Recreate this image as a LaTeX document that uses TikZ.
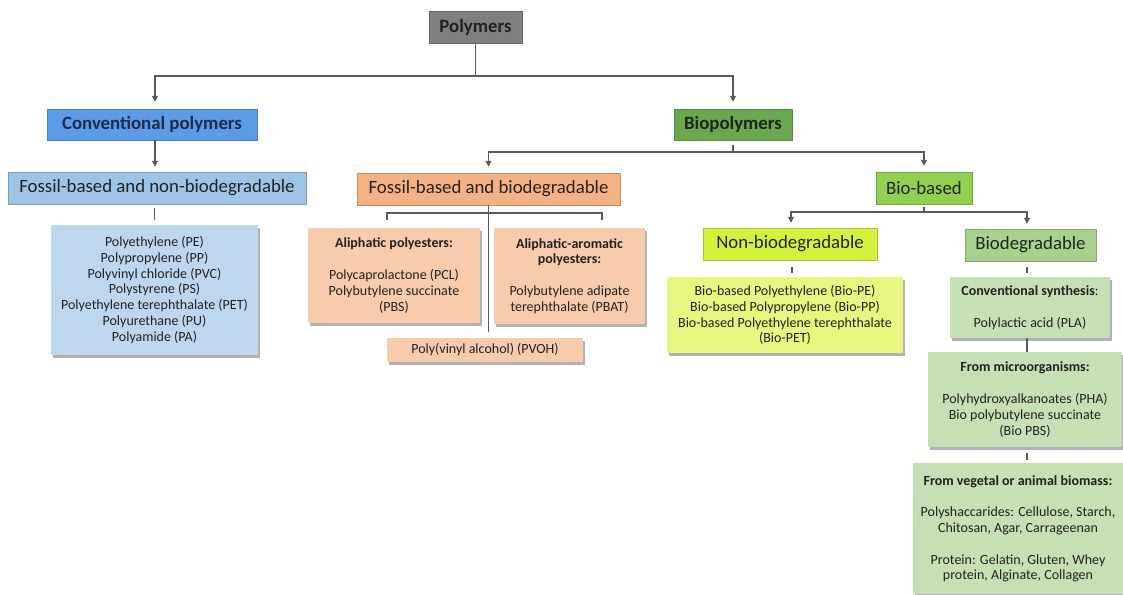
\documentclass[tikz,border=0pt]{standalone}
\usepackage{fontspec}
\setmainfont{Carlito}
\usetikzlibrary{arrows.meta,shadows,calc}
\definecolor{txt}{HTML}{222222}
\definecolor{navy}{HTML}{1C2B4A}
\definecolor{cgray}{HTML}{7F7F7F}
\definecolor{cconv}{HTML}{5C9CE6}
\definecolor{cfnb}{HTML}{9DC3E6}
\definecolor{cblue}{HTML}{BDD7EE}
\definecolor{cbio}{HTML}{6AA84F}
\definecolor{cfb}{HTML}{F4B183}
\definecolor{corange}{HTML}{F8CBAD}
\definecolor{cbb}{HTML}{92D050}
\definecolor{cnon}{HTML}{D4F23C}
\definecolor{cyel}{HTML}{E8F57E}
\definecolor{cbiod}{HTML}{A9D18E}
\definecolor{cgreen}{HTML}{C5E0B4}
\definecolor{cline}{HTML}{5A5A5A}
\begin{document}
\begin{tikzpicture}[x=1pt,y=-1pt,
  boxbase/.style={fill=#1, draw=#1!80!black, line width=0.5pt, inner sep=0pt, align=center, text=txt},
  hdr/.style={boxbase=#1, font=\fontsize{18.8}{22}\selectfont\bfseries},
  subhdr/.style={boxbase=#1, font=\fontsize{18.8}{22}\selectfont},
  lstbox/.style={fill=#1, draw=none, inner sep=0pt, align=center, text=txt,
    font=\fontsize{14}{15.8}\selectfont,
    drop shadow={shadow xshift=2pt, shadow yshift=-3pt, fill=black, opacity=0.3}},
  conn/.style={draw=cline, line width=1.1pt},
  arr/.style={conn, -{Triangle[length=6pt,width=6pt]}},
]
\useasboundingbox (0,0) rectangle (1123,594);
\fill[white] (0,0) rectangle (1123,594);

% headers
\node[hdr=cgray, minimum width=93, minimum height=32] (poly) at (475.5,27) {Polymers};
\node[hdr=cconv, text=navy, minimum width=210, minimum height=31] (conv) at (152,124.5) {Conventional polymers};
\node[hdr=cbio, minimum width=118, minimum height=31] (bio) at (733,124.5) {Biopolymers};
\node[subhdr=cfnb, minimum width=298, minimum height=32] (fnb) at (157,188) {Fossil-based and non-biodegradable};
\node[subhdr=cfb, minimum width=263, minimum height=32] (fb) at (488.5,189) {Fossil-based and biodegradable};
\node[subhdr=cbb, minimum width=96, minimum height=32] (bb) at (924,188) {Bio-based};
\node[subhdr=cnon, minimum width=174, minimum height=32] (nonbio) at (790,244) {Non-biodegradable};
\node[subhdr=cbiod, minimum width=131, minimum height=32] (biodeg) at (1030.5,245) {Biodegradable};

% list boxes
\node[lstbox=cblue, minimum width=207, minimum height=130] (blue) at (154.5,290)
  {Polyethylene (PE)\\Polypropylene (PP)\\Polyvinyl chloride (PVC)\\Polystyrene (PS)\\Polyethylene terephthalate (PET)\\Polyurethane (PU)\\Polyamide (PA)};
\node[lstbox=corange, minimum width=172, minimum height=95] (aliph) at (394,275.5)
  {\textbf{Aliphatic polyesters:}\\[15.8pt]Polycaprolactone (PCL)\\Polybutylene succinate\\(PBS)};
\node[lstbox=corange, minimum width=151, minimum height=96] (arom) at (569.5,276)
  {\textbf{Aliphatic-aromatic}\\\textbf{polyesters:}\\[15.8pt]Polybutylene adipate\\terephthalate (PBAT)};
\node[lstbox=corange, minimum width=196, minimum height=24] (pvoh) at (485,350)
  {Poly(vinyl alcohol) (PVOH)};
\node[lstbox=cyel, minimum width=236, minimum height=76] (ylist) at (785,315)
  {Bio-based Polyethylene (Bio-PE)\\Bio-based Polypropylene (Bio-PP)\\Bio-based Polyethylene terephthalate\\(Bio-PET)};
\node[lstbox=cgreen, minimum width=160, minimum height=61] (csyn) at (1030,307.5)
  {\textbf{Conventional synthesis}:\\[15.8pt]Polylactic acid (PLA)};
\node[lstbox=cgreen, minimum width=194, minimum height=95] (micro) at (1025,399.5)
  {\textbf{From microorganisms:}\\[15.8pt]Polyhydroxyalkanoates (PHA)\\Bio polybutylene succinate\\(Bio PBS)};
\node[lstbox=cgreen, minimum width=210, minimum height=131, anchor=north] (biomass) at (1018,463)
  {\textbf{From vegetal or animal biomass:}\\[15.8pt]Polyshaccarides: Cellulose, Starch,\\Chitosan, Agar, Carrageenan\\[15.8pt]Protein: Gelatin, Gluten, Whey\\protein, Alginate, Collagen};

% connectors
\coordinate (j1) at (475.5,76);
\draw[conn] (poly.south) -- (j1);
\draw[arr, shorten >=7pt] (j1) -| ([xshift=3pt]conv.north);
\draw[arr, shorten >=7pt] (j1) -| (bio.north);
\draw[arr, shorten >=5pt] ([xshift=3pt]conv.south) -- ([xshift=3pt]conv.south |- fnb.north);
\draw[conn, shorten <=4pt, shorten >=5pt] (fnb.south -| blue.north) -- (blue.north);

\coordinate (j2) at (733,152);
\draw[conn, shorten <=5pt] (bio.south) -- (j2);
\draw[arr, shorten >=6pt] (j2) -| (fb.north);
\draw[arr, shorten >=6pt] (j2) -| (bb.north);

\coordinate (j3) at (924,212);
\draw[conn, shorten <=3pt] (bb.south) -- (j3);
\draw[arr, shorten >=5pt] (j3) -| ([xshift=1pt]nonbio.north);
\draw[arr, shorten >=5pt] (j3) -| ([xshift=-3.5pt]biodeg.north);

\draw[conn, shorten <=7pt, shorten >=4pt] ([xshift=2pt]nonbio.south) -- ([xshift=2pt]nonbio.south |- ylist.north);
\draw[conn, shorten <=6pt, shorten >=4pt] ([xshift=-3.5pt]biodeg.south) -- ([xshift=-3.5pt]biodeg.south |- csyn.north);
\draw[conn] ([xshift=-3pt]csyn.south) -- ([xshift=-3pt]csyn.south |- micro.north);
\draw[conn, shorten <=6pt, shorten >=3pt] ([xshift=2pt]micro.south) -- ([xshift=2pt]micro.south |- biomass.north);

% fossil-based and biodegradable bracket
\draw[conn, shorten >=6pt] (fb.south) -- (fb.south |- pvoh.north);
\coordinate (bl) at (387,220);
\coordinate (br) at (602,220);
\draw[conn] (bl) -- ++(0,-7) -| (br);
\end{tikzpicture}
\end{document}
